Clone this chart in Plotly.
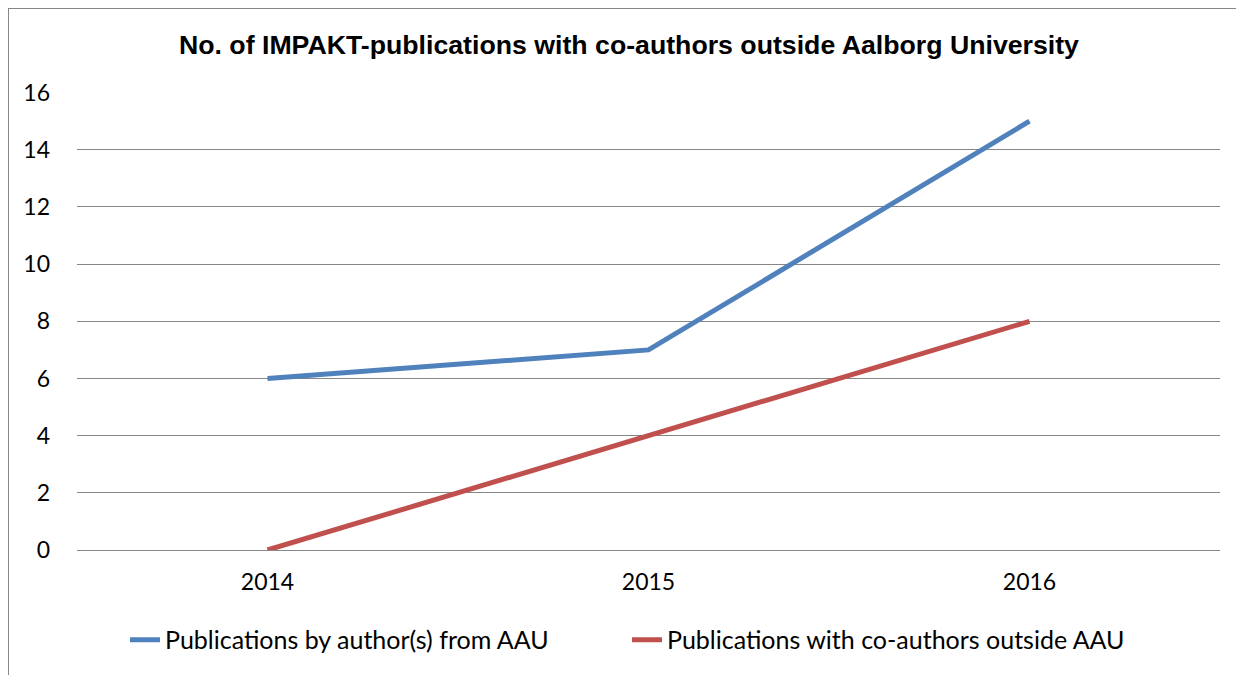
import plotly.graph_objects as go

years = ["2014", "2015", "2016"]
aau_only = [6, 7, 15]
co_authors_outside = [0, 4, 8]

# page body adds an 8px margin, so the figure is sized to fill the rest
W, H = 1236, 667
ml, mr, mt, mb = 69, 24, 84, 125
pw, ph = W - ml - mr, H - mt - mb

fig = go.Figure()
fig.add_trace(go.Scatter(x=years, y=aau_only, mode="lines",
                         name="Publications by author(s) from AAU",
                         line=dict(color="#4F81BD", width=5)))
fig.add_trace(go.Scatter(x=years, y=co_authors_outside, mode="lines",
                         name="Publications with co-authors outside AAU",
                         line=dict(color="#C0504D", width=5)))

# outer chart frame
fig.add_shape(type="rect", xref="paper", yref="paper",
              x0=(0 - ml) / pw, x1=(W + 10 - ml) / pw,
              y0=-(H + 10 - mt - ph) / ph, y1=(mt + ph) / ph,
              line=dict(color="#868686", width=2), layer="below")

fig.update_layout(
    width=W, height=H,
    margin=dict(l=ml, r=mr, t=mt, b=mb),
    paper_bgcolor="white", plot_bgcolor="white",
    font=dict(family="Lato, Open Sans, sans-serif", size=23, color="black"),
    title=dict(text="<b>No. of IMPAKT-publications with co-authors outside Aalborg University</b>",
               x=0.5024, xanchor="center", y=0.9445, yanchor="middle",
               font=dict(family="Liberation Sans, Arial, sans-serif", size=26.7)),
    xaxis=dict(type="category", range=[-0.5, 2.5], showgrid=False,
               showline=False, ticks="", zeroline=False, ticklabelstandoff=16),
    yaxis=dict(range=[0, 16.02], tickvals=[0, 2, 4, 6, 8, 10, 12, 14, 16],
               showgrid=True, gridcolor="#868686", gridwidth=1,
               zeroline=True, zerolinecolor="#868686", zerolinewidth=1,
               ticks="", ticklabelstandoff=26),
    legend=dict(orientation="h", x=0.4812, xanchor="center", y=-0.1965,
                yanchor="middle", font=dict(size=25),
                entrywidth=457, entrywidthmode="pixels"),
)

fig.write_html("out.html")
